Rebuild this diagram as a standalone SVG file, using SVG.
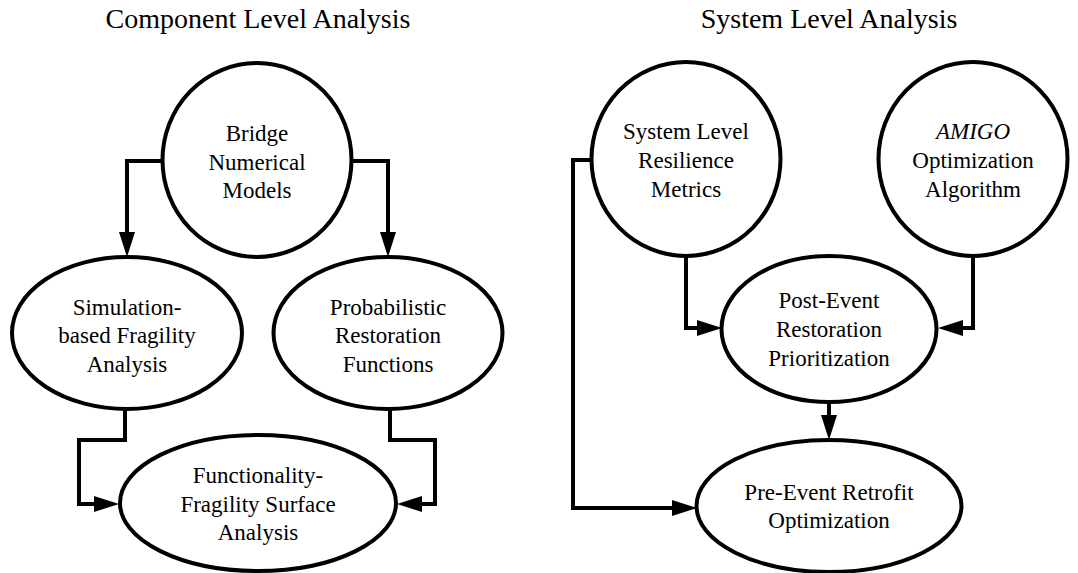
<svg xmlns="http://www.w3.org/2000/svg" width="1078" height="573" viewBox="0 0 1078 573">
<style>
.node{fill:#fff;stroke:#000;stroke-width:4}
.t{font-family:"Liberation Serif","Times New Roman",serif;font-size:23px;fill:#000;text-anchor:middle}
.title{font-family:"Liberation Serif","Times New Roman",serif;font-size:28px;fill:#000;text-anchor:middle}
.c{fill:none;stroke:#000;stroke-width:4;stroke-linejoin:miter}
</style>
<defs>
<marker id="ah" markerUnits="userSpaceOnUse" markerWidth="26" markerHeight="18" refX="5" refY="8" orient="auto" overflow="visible">
<path d="M0,0 L25,8 L0,16 z" fill="#000"/>
</marker>
</defs>
<rect width="1078" height="573" fill="#fff"/>
<text class="title" x="258" y="28">Component Level Analysis</text>
<text class="title" x="829" y="28">System Level Analysis</text>

<g id="connectors">
<path class="c" d="M165,161 H127 V237" marker-end="url(#ah)"/>
<path class="c" d="M350,161 H388 V237" marker-end="url(#ah)"/>
<path class="c" d="M125,409 V440 H79 V504 H99" marker-end="url(#ah)"/>
<path class="c" d="M390,409 V440 H435 V504 H417" marker-end="url(#ah)"/>
<path class="c" d="M593,160 H573 V508 H677" marker-end="url(#ah)"/>
<path class="c" d="M686,257 V328 H702" marker-end="url(#ah)"/>
<path class="c" d="M973,257 V328 H958" marker-end="url(#ah)"/>
<path class="c" d="M829,402 V420" marker-end="url(#ah)"/>
</g>

<g id="bridge">
<ellipse class="node" cx="257" cy="160" rx="94.5" ry="97"/>
<text class="t" x="257" y="141">Bridge</text>
<text class="t" x="257" y="170">Numerical</text>
<text class="t" x="257" y="198">Models</text>
</g>
<g id="simulation">
<ellipse class="node" cx="127" cy="333" rx="115" ry="76"/>
<text class="t" x="127" y="315">Simulation-</text>
<text class="t" x="127" y="343">based Fragility</text>
<text class="t" x="127" y="372">Analysis</text>
</g>
<g id="probabilistic">
<ellipse class="node" cx="388" cy="333" rx="114.5" ry="76"/>
<text class="t" x="388" y="315">Probabilistic</text>
<text class="t" x="388" y="343">Restoration</text>
<text class="t" x="388" y="372">Functions</text>
</g>
<g id="functionality">
<ellipse class="node" cx="258" cy="503" rx="138" ry="68"/>
<text class="t" x="258" y="483">Functionality-</text>
<text class="t" x="258" y="512">Fragility Surface</text>
<text class="t" x="258" y="540">Analysis</text>
</g>
<g id="resilience">
<ellipse class="node" cx="686" cy="159" rx="94.5" ry="97"/>
<text class="t" x="686" y="139">System Level</text>
<text class="t" x="686" y="168">Resilience</text>
<text class="t" x="686" y="197">Metrics</text>
</g>
<g id="amigo">
<ellipse class="node" cx="973" cy="159" rx="94.5" ry="97"/>
<text class="t" x="973" y="139" font-style="italic">AMIGO</text>
<text class="t" x="973" y="168">Optimization</text>
<text class="t" x="973" y="197">Algorithm</text>
</g>
<g id="postevent">
<ellipse class="node" cx="829" cy="329" rx="107.5" ry="73"/>
<text class="t" x="829" y="308">Post-Event</text>
<text class="t" x="829" y="337">Restoration</text>
<text class="t" x="829" y="366">Prioritization</text>
</g>
<g id="preevent">
<ellipse class="node" cx="829" cy="506" rx="132.5" ry="66"/>
<text class="t" x="829" y="500">Pre-Event Retrofit</text>
<text class="t" x="829" y="528">Optimization</text>
</g>
</svg>
